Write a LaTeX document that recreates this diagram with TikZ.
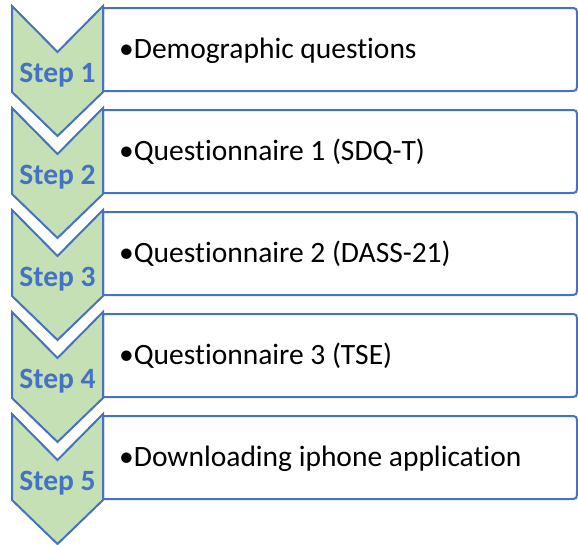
\documentclass[tikz,border=0pt]{standalone}
\usepackage{fontspec}
\setmainfont{Carlito}[Ligatures=NoCommon]
\definecolor{stepblue}{HTML}{4472C4}
\definecolor{stepgreen}{HTML}{C5E0B4}
\begin{document}
\begin{tikzpicture}[x=1pt,y=-1pt,
  chev/.style={draw=stepblue,fill=stepgreen,line width=2pt,line join=miter},
  itembox/.style={draw=stepblue,fill=white,line width=2pt},
  steplabel/.style={text=stepblue,font=\fontsize{29.5}{34}\selectfont\bfseries,
    anchor=base,inner sep=0pt},
  itemtext/.style={font=\fontsize{29.5}{34}\selectfont,anchor=base west,inner sep=0pt}]
\useasboundingbox (0,0) rectangle (578,544);
\foreach \k/\txt in {1/Demographic questions,2/Questionnaire 1 (SDQ-T),
    3/Questionnaire 2 (DASS-21),4/Questionnaire 3 (TSE),
    5/Downloading iphone application}{
  \pgfmathsetmacro{\t}{6+102*(\k-1)}
  \pgfmathsetmacro{\a}{\t+2}
  \pgfmathsetmacro{\b}{\t+85}
  % text panel: square on the left, rounded on the right
  \draw[itembox] (103,\a) -- (569,\a) .. controls (577,\a) .. (577,\a+8)
    -- (577,\b-8) .. controls (577,\b) .. (569,\b) -- (103,\b) -- cycle;
  % chevron
  \draw[chev] (12,\t) -- (57.5,\t+46) -- (103,\t) -- (103,\t+86)
    -- (57.5,\t+130) -- (12,\t+86) -- cycle;
  \node[steplabel] (step\k) at (57.5,\t+76) {Step \k};
  \node[itemtext] (item\k) at (119,\t+52.5) {•\txt};
}
\end{tikzpicture}
\end{document}
